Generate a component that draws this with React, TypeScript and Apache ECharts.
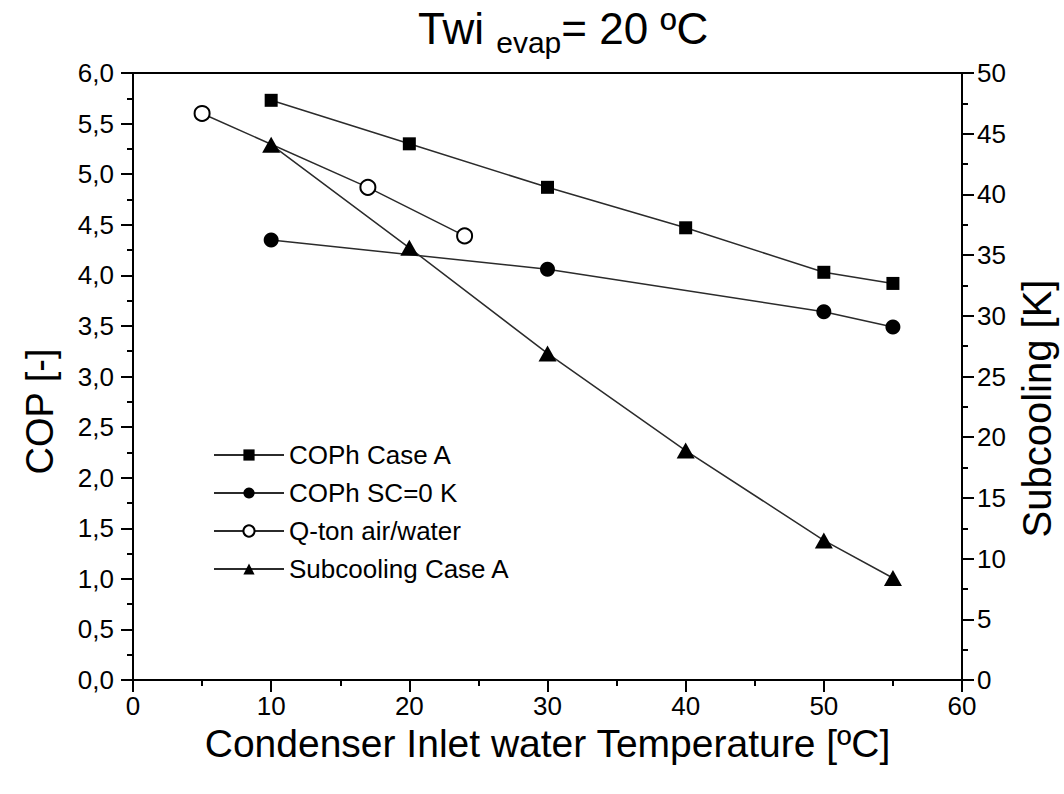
import { useEffect, useRef } from "react";
import * as echarts from "echarts";

// Condenser inlet water temperature [ºC] for each series
const tempCaseA = [10, 20, 30, 40, 50, 55];
const tempSc0 = [10, 30, 50, 55];
const tempQton = [5, 17, 24];
const tempSubcooling = [10, 20, 30, 40, 50, 55];

// Heating COP [-]
const copCaseA = [5.73, 5.3, 4.87, 4.47, 4.03, 3.92];
const copSc0 = [4.35, 4.06, 3.64, 3.49];
const copQton = [5.6, 4.87, 4.39];

// Subcooling [K]
const subcoolingCaseA = [44.1, 35.6, 26.9, 18.9, 11.5, 8.4];

const seriesNames = ["COPh Case A", "COPh SC=0 K", "Q-ton air/water", "Subcooling Case A"];

const FONT = "'Liberation Sans', Arial, Helvetica, sans-serif";

const pairs = (xs: number[], ys: number[]) => xs.map((x, i) => [x, ys[i]]);

export default function App() {
  const ref = useRef<HTMLDivElement>(null);

  useEffect(() => {
    if (!ref.current) return;
    const chart = echarts.init(ref.current, undefined, { renderer: "svg" });

    const lineStyle = { color: "#2b2b2b", width: 1.5 };
    const axisCommon = {
      axisLine: { show: true, lineStyle: { color: "#000", width: 2 } },
      axisTick: { show: true, inside: false, length: 12, lineStyle: { color: "#000", width: 2 } },
      minorTick: { show: true, splitNumber: 2, length: 6, lineStyle: { color: "#000", width: 2 } },
      splitLine: { show: false },
      minorSplitLine: { show: false },
    };

    chart.setOption({
      animation: false,
      backgroundColor: "#fff",
      textStyle: { fontFamily: FONT },
      title: {
        left: 418,
        top: 4,
        padding: 0,
        text: "{a|Twi }{b|evap}{a|= 20 ºC}",
        textStyle: {
          fontWeight: "normal",
          rich: {
            a: { fontSize: 44, fontFamily: FONT, fontWeight: "normal", color: "#000", lineHeight: 48 },
            b: {
              fontSize: 30,
              fontFamily: FONT,
              fontWeight: "normal",
              color: "#000",
              lineHeight: 30,
              verticalAlign: "top",
              padding: [23, 0, 0, 0],
            },
          },
        },
      },
      grid: {
        left: 133,
        right: 102,
        top: 73,
        bottom: 114,
        show: true,
        borderColor: "#000",
        borderWidth: 2,
        backgroundColor: "transparent",
        containLabel: false,
        outerBoundsMode: "none",
      },
      legend: {
        orient: "vertical",
        left: 213,
        top: 442,
        padding: 0,
        itemWidth: 70,
        itemHeight: 14,
        itemGap: 12,
        data: seriesNames,
        textStyle: { fontSize: 26, color: "#000", fontFamily: FONT, lineHeight: 26 },
      },
      xAxis: {
        type: "value",
        min: 0,
        max: 60,
        interval: 10,
        ...axisCommon,
        axisLabel: { fontSize: 26, color: "#000", margin: 13, fontFamily: FONT },
        name: "Condenser Inlet water Temperature [ºC]",
        nameLocation: "middle",
        nameGap: 44,
        nameTextStyle: { fontSize: 39, color: "#000", fontFamily: FONT },
      },
      yAxis: [
        {
          type: "value",
          position: "left",
          min: 0,
          max: 6,
          interval: 0.5,
          ...axisCommon,
          axisLabel: {
            fontSize: 26,
            color: "#000",
            margin: 19,
            fontFamily: FONT,
            formatter: (v: number) => v.toFixed(1).replace(".", ","),
          },
          name: "COP [-]",
          nameLocation: "middle",
          nameGap: 74,
          nameTextStyle: { fontSize: 38, color: "#000", fontFamily: FONT, padding: [0, 70, 0, 0] },
        },
        {
          type: "value",
          position: "right",
          min: 0,
          max: 50,
          interval: 5,
          ...axisCommon,
          axisLabel: { fontSize: 26, color: "#000", margin: 15, fontFamily: FONT },
          name: "Subcooling [K]",
          nameLocation: "middle",
          nameGap: 52,
          nameTextStyle: { fontSize: 40, color: "#000", fontFamily: FONT, padding: [0, 64, 0, 0] },
        },
      ],
      series: [
        {
          name: seriesNames[0],
          type: "line",
          yAxisIndex: 0,
          data: pairs(tempCaseA, copCaseA),
          symbol: "rect",
          symbolSize: 13,
          itemStyle: { color: "#000" },
          lineStyle,
        },
        {
          name: seriesNames[1],
          type: "line",
          yAxisIndex: 0,
          data: pairs(tempSc0, copSc0),
          symbol: "circle",
          symbolSize: 15,
          itemStyle: { color: "#000" },
          lineStyle,
        },
        {
          name: seriesNames[2],
          type: "line",
          yAxisIndex: 0,
          data: pairs(tempQton, copQton),
          symbol: "emptyCircle",
          symbolSize: 15,
          itemStyle: { color: "#000", borderColor: "#333", borderWidth: 1.5 },
          lineStyle,
        },
        {
          name: seriesNames[3],
          type: "line",
          yAxisIndex: 1,
          data: pairs(tempSubcooling, subcoolingCaseA),
          symbol: "triangle",
          symbolSize: [18, 16],
          itemStyle: { color: "#000" },
          lineStyle,
        },
      ],
    });

    return () => chart.dispose();
  }, []);

  return (
    <div
      ref={ref}
      style={{ position: "fixed", left: 0, top: 0, width: 1064, height: 794 }}
    />
  );
}
